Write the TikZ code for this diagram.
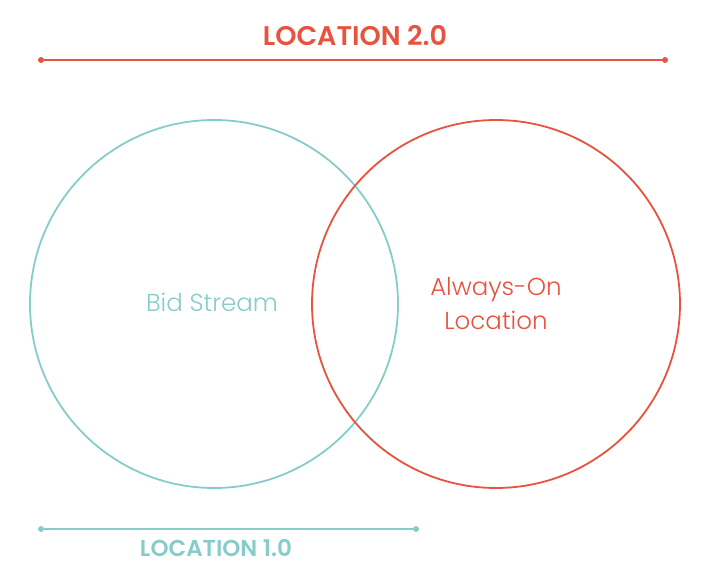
\documentclass[tikz,border=0pt]{standalone}
\usepackage{fontspec}
\setmainfont{Poppins}[UprightFont={* Light},BoldFont={* SemiBold}]
\definecolor{redc}{HTML}{E8533F}
\definecolor{tealc}{HTML}{86CDC9}
\begin{document}
\begin{tikzpicture}[x=1pt,y=-1pt,
  dotc/.style={circle,fill,inner sep=0pt,minimum size=6pt},
  lbl/.style={font=\fontsize{24.5}{34}\selectfont,align=center}]
\useasboundingbox (0,0) rectangle (724,586);
% top line
\node[dotc,redc] (t1) at (41,60) {};
\node[dotc,redc] (t2) at (665,60) {};
\draw[redc,line width=1.2pt] (t1) -- (t2);
\node[font=\bfseries\fontsize{27}{30}\selectfont,text=redc] (title2) at (355,36) {LOCATION 2.0};
% circles
\node[circle,draw=tealc,line width=1.8pt,minimum size=368pt,inner sep=0pt] (c1) at (214,304) {};
\node[circle,draw=redc,line width=1.8pt,minimum size=368pt,inner sep=0pt] (c2) at (496,304) {};
\node[lbl,text=tealc] (bid) at (212,302) {Bid Stream};
\node[lbl,text=redc] (ao) at (496,304) {Always-On\\Location};
% bottom line
\node[dotc,tealc] (b1) at (41,529) {};
\node[dotc,tealc] (b2) at (416,529) {};
\draw[tealc,line width=1.2pt] (b1) -- (b2);
\node[font=\bfseries\fontsize{23}{26}\selectfont,text=tealc] (title1) at (216,548) {LOCATION 1.0};
\end{tikzpicture}
\end{document}
